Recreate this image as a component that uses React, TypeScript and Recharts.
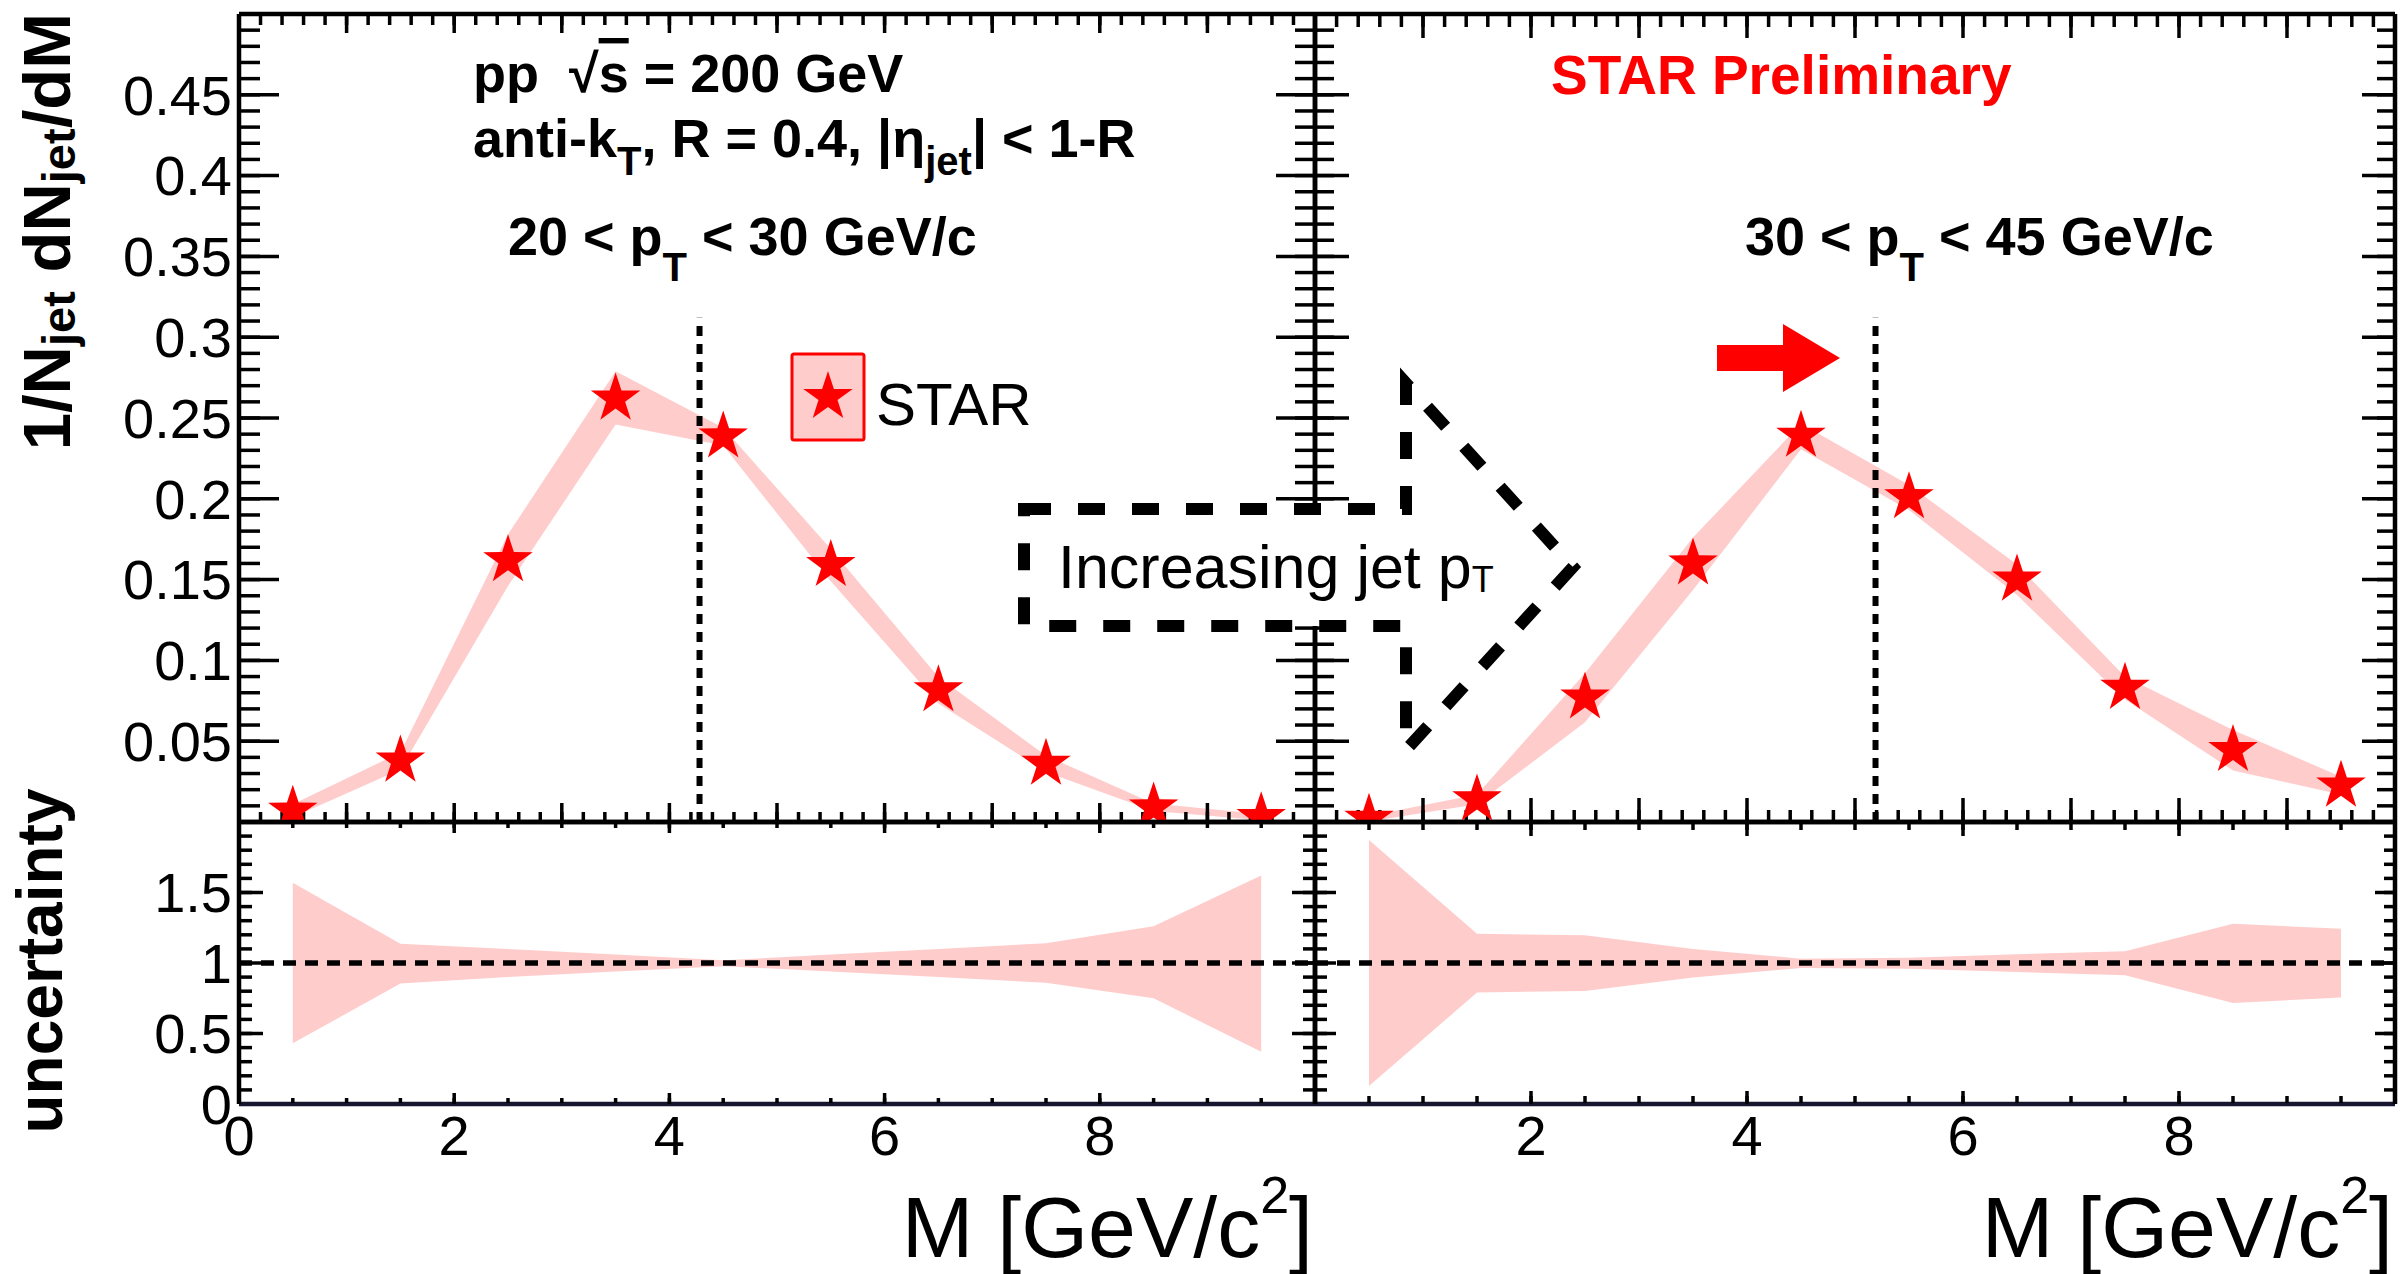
import React from 'react';
import { ComposedChart, XAxis, YAxis, Area, Scatter, ReferenceLine } from 'recharts';

const FONT = '"Liberation Sans", Arial, Helvetica, sans-serif';

// ---------------- data ----------------
const massBins = [0.5, 1.5, 2.5, 3.5, 4.5, 5.5, 6.5, 7.5, 8.5, 9.5];

// 20 < pT < 30 GeV/c
const pt2030Yield = [0.007, 0.038, 0.162, 0.262, 0.2386, 0.159, 0.0815, 0.036, 0.009, 0.003];
const pt2030SysLo = [0.003, 0.0325, 0.146, 0.246, 0.233, 0.149, 0.0734, 0.031, 0.0068, 0.0011];
const pt2030SysHi = [0.011, 0.043, 0.178, 0.279, 0.244, 0.169, 0.0897, 0.041, 0.0114, 0.0049];
const pt2030RatioLo = [0.43, 0.855, 0.9, 0.94, 0.977, 0.94, 0.9, 0.86, 0.75, 0.37];
const pt2030RatioHi = [1.57, 1.137, 1.1, 1.06, 1.019, 1.06, 1.1, 1.14, 1.26, 1.62];

// 30 < pT < 45 GeV/c
const pt3045Yield = [0.002, 0.014, 0.077, 0.16, 0.239, 0.201, 0.15, 0.083, 0.0445, 0.0225];
const pt3045SysLo = [0.0003, 0.011, 0.0617, 0.1435, 0.2306, 0.193, 0.1404, 0.0758, 0.0319, 0.017];
const pt3045SysHi = [0.0037, 0.017, 0.092, 0.176, 0.2464, 0.2086, 0.1593, 0.0899, 0.0569, 0.028];
const pt3045RatioLo = [0.128, 0.79, 0.802, 0.897, 0.965, 0.96, 0.936, 0.913, 0.717, 0.755];
const pt3045RatioHi = [1.873, 1.208, 1.196, 1.1, 1.031, 1.038, 1.062, 1.083, 1.279, 1.243];

// mean jet mass markers (dotted lines)
const meanMass = [4.28, 5.19];
const meanLineTop = 0.312;

// tick labels
const upperYLabels = [0.05, 0.1, 0.15, 0.2, 0.25, 0.3, 0.35, 0.4, 0.45];
const lowerYLabels = [0, 0.5, 1, 1.5];
const leftXLabels = [0, 2, 4, 6, 8];
const rightXLabels = [2, 4, 6, 8];

// ---------------- helpers ----------------
const range = (start: number, stop: number, step: number) => {
  const out: number[] = [];
  for (let i = 0; ; i++) {
    const v = +(start + i * step).toFixed(6);
    if (v > stop + 1e-9) break;
    out.push(v);
  }
  return out;
};

const upperXMajor = range(1, 9, 1);
const upperXMinor = range(0.2, 9.8, 0.2);
const upperYMajor = range(0.05, 0.45, 0.05);
const upperYMinor = range(0.01, 0.49, 0.01);
const lowerXMajor = [2, 4, 6, 8];
const lowerXMinor = range(0.5, 9.5, 0.5);
const lowerYMajor = [0.5, 1, 1.5];
const lowerYMinor = range(0.1, 1.9, 0.1);

const upperRows = (y: number[], lo: number[], hi: number[]) =>
  massBins.map((x, i) => ({ x, y: y[i], band: [lo[i], hi[i]] }));
const lowerRows = (lo: number[], hi: number[]) =>
  massBins.map((x, i) => ({ x, band: [lo[i], hi[i]] }));

function StarShape(props: any) {
  const { cx, cy } = props;
  if (cx == null || cy == null || isNaN(cx) || isNaN(cy)) return null;
  const R = 26;
  const r = 10;
  const pts: string[] = [];
  for (let i = 0; i < 10; i++) {
    const a = -Math.PI / 2 + (i * Math.PI) / 5;
    const rad = i % 2 === 0 ? R : r;
    pts.push(`${(cx + rad * Math.cos(a)).toFixed(2)},${(cy + rad * Math.sin(a)).toFixed(2)}`);
  }
  return <polygon points={pts.join(' ')} fill="#ff0000" />;
}

const NoTickLabel = () => <g />;

type PanelCfg = {
  yDomain: [number, number];
  xMajor: number[];
  xMinor: number[];
  yMajor: number[];
  yMinor: number[];
  bottom: [number, number];
  top: [number, number];
  left: [number, number];
  right: [number, number];
  xLabels?: number[];
  yLabels?: number[];
  labelH?: number;
  labelW?: number;
  bottomColor?: string;
};

function axesFor(c: PanelCfg) {
  const tl = { stroke: '#000', strokeWidth: 3.5 };
  const al = { stroke: '#000', strokeWidth: 4.5 };
  const xc: any = {
    type: 'number',
    dataKey: 'x',
    domain: [0, 10],
    allowDataOverflow: true,
    interval: 0,
    tick: NoTickLabel,
    tickLine: tl,
    mirror: true,
    height: 1,
  };
  const yc: any = {
    type: 'number',
    domain: c.yDomain,
    allowDataOverflow: true,
    interval: 0,
    tick: NoTickLabel,
    tickLine: tl,
    mirror: true,
    width: 1,
  };
  const list: any[] = [
    <XAxis key="xb" xAxisId="xb" {...xc} orientation="bottom" ticks={c.xMajor} tickSize={c.bottom[0]}
      axisLine={{ stroke: c.bottomColor || '#000', strokeWidth: 4.5 }} />,
    <XAxis key="xb2" xAxisId="xb2" {...xc} orientation="bottom" ticks={c.xMinor} tickSize={c.bottom[1]} axisLine={false} />,
    <XAxis key="xt" xAxisId="xt" {...xc} orientation="top" ticks={c.xMajor} tickSize={c.top[0]} axisLine={al} />,
    <XAxis key="xt2" xAxisId="xt2" {...xc} orientation="top" ticks={c.xMinor} tickSize={c.top[1]} axisLine={false} />,
    <YAxis key="yl" yAxisId="yl" {...yc} orientation="left" ticks={c.yMajor} tickSize={c.left[0]} axisLine={al} />,
    <YAxis key="yl2" yAxisId="yl2" {...yc} orientation="left" ticks={c.yMinor} tickSize={c.left[1]} axisLine={false} />,
    <YAxis key="yr" yAxisId="yr" {...yc} orientation="right" ticks={c.yMajor} tickSize={c.right[0]} axisLine={al} />,
    <YAxis key="yr2" yAxisId="yr2" {...yc} orientation="right" ticks={c.yMinor} tickSize={c.right[1]} axisLine={false} />,
  ];
  if (c.xLabels) {
    list.push(
      <XAxis key="xlab" xAxisId="xlab" type="number" dataKey="x" domain={[0, 10]} allowDataOverflow interval={0}
        orientation="bottom" height={c.labelH} ticks={c.xLabels} tickLine={false} axisLine={false}
        tickSize={0} tickMargin={11} tickFormatter={(v: number) => String(v)}
        tick={{ fontSize: 56, fill: '#000', fontFamily: FONT }} />
    );
  }
  if (c.yLabels) {
    list.push(
      <YAxis key="ylab" yAxisId="ylab" type="number" domain={c.yDomain} allowDataOverflow interval={0}
        orientation="left" width={c.labelW} ticks={c.yLabels} tickLine={false} axisLine={false}
        tickSize={0} tickMargin={7} tickFormatter={(v: number) => String(v)}
        tick={{ fontSize: 56, fill: '#000', fontFamily: FONT }} />
    );
  }
  return list;
}

const upperLeftCfg: PanelCfg = {
  yDomain: [0, 0.5], xMajor: upperXMajor, xMinor: upperXMinor, yMajor: upperYMajor, yMinor: upperYMinor,
  bottom: [19, 9], top: [19, 10], left: [40, 20], right: [39, 19], yLabels: upperYLabels, labelW: 239,
};
const upperRightCfg: PanelCfg = {
  yDomain: [0, 0.5], xMajor: upperXMajor, xMinor: upperXMinor, yMajor: upperYMajor, yMinor: upperYMinor,
  bottom: [24, 11], top: [24, 12], left: [34, 18], right: [33, 17],
};
const lowerLeftCfg: PanelCfg = {
  yDomain: [0, 2], xMajor: lowerXMajor, xMinor: lowerXMinor, yMajor: lowerYMajor, yMinor: lowerYMinor,
  bottom: [11, 5], top: [11, 5], left: [24, 12], right: [23, 11], xLabels: leftXLabels, yLabels: lowerYLabels,
  labelH: 90, labelW: 239, bottomColor: '#16162e',
};
const lowerRightCfg: PanelCfg = {
  yDomain: [0, 2], xMajor: lowerXMajor, xMinor: lowerXMinor, yMajor: lowerYMajor, yMinor: lowerYMinor,
  bottom: [13, 7], top: [14, 7], left: [21, 11], right: [20, 10], xLabels: rightXLabels,
  labelH: 90, bottomColor: '#16162e',
};

function UpperPanel({ cfg, rows, mean, width, height, margin }: any) {
  return (
    <ComposedChart width={width} height={height} margin={margin} data={rows}>
      {axesFor(cfg)}
      <Area xAxisId="xb" yAxisId="yl" type="linear" dataKey="band" fill="#ffcccc" fillOpacity={1}
        stroke="none" dot={false} activeDot={false} isAnimationActive={false} />
      <ReferenceLine xAxisId="xb" yAxisId="yl" segment={[{ x: mean, y: 0 }, { x: mean, y: meanLineTop }]}
        stroke="#000" strokeWidth={6} strokeDasharray="10 8" />
      <Scatter xAxisId="xb" yAxisId="yl" data={rows} dataKey="y" shape={StarShape} isAnimationActive={false} />
    </ComposedChart>
  );
}

function LowerPanel({ cfg, rows, width, height, margin }: any) {
  return (
    <ComposedChart width={width} height={height} margin={margin} data={rows}>
      {axesFor(cfg)}
      <Area xAxisId="xb" yAxisId="yl" type="linear" dataKey="band" fill="#ffcccc" fillOpacity={1}
        stroke="none" dot={false} activeDot={false} isAnimationActive={false} />
      <ReferenceLine xAxisId="xb" yAxisId="yl" y={1} stroke="#000" strokeWidth={5.5} strokeDasharray="13 9" />
    </ComposedChart>
  );
}

const T = { fontFamily: FONT, fill: '#000' };

export default function App() {
  const ulRows = upperRows(pt2030Yield, pt2030SysLo, pt2030SysHi);
  const urRows = upperRows(pt3045Yield, pt3045SysLo, pt3045SysHi);
  const llRows = lowerRows(pt2030RatioLo, pt2030RatioHi);
  const lrRows = lowerRows(pt3045RatioLo, pt3045RatioHi);
  return (
    <div style={{ position: 'absolute', left: 0, top: 0, width: 2405, height: 1274, background: '#fff', overflow: 'hidden' }}>
      <div style={{ position: 'absolute', left: 1310, top: 0 }}>
        <UpperPanel cfg={upperRightCfg} rows={urRows} mean={meanMass[1]} width={1091} height={826}
          margin={{ top: 14, right: 6, bottom: 4, left: 5 }} />
      </div>
      <div style={{ position: 'absolute', left: 0, top: 0 }}>
        <UpperPanel cfg={upperLeftCfg} rows={ulRows} mean={meanMass[0]} width={1320} height={826}
          margin={{ top: 14, right: 5, bottom: 4, left: 0 }} />
      </div>
      <div style={{ position: 'absolute', left: 1310, top: 818 }}>
        <LowerPanel cfg={lowerRightCfg} rows={lrRows} width={1091} height={376}
          margin={{ top: 4, right: 6, bottom: 0, left: 5 }} />
      </div>
      <div style={{ position: 'absolute', left: 0, top: 818 }}>
        <LowerPanel cfg={lowerLeftCfg} rows={llRows} width={1320} height={376}
          margin={{ top: 4, right: 5, bottom: 0, left: 0 }} />
      </div>

      <svg style={{ position: 'absolute', left: 0, top: 0, pointerEvents: 'none' }} width={2405} height={1274}>
        {/* axis titles */}
        <text transform="translate(70,13) rotate(-90)" textAnchor="end" fontWeight="bold" fontSize={67} {...T}>
          1/N<tspan fontSize={47} dy={5}>jet</tspan><tspan dy={-5}> dN</tspan><tspan fontSize={47} dy={5}>jet</tspan><tspan dy={-5}>/dM</tspan>
        </text>
        <text transform="translate(62,961) rotate(-90)" textAnchor="middle" fontWeight="bold" fontSize={64} {...T}>
          uncertainty
        </text>
        <text x={1313} y={1257} textAnchor="end" fontSize={86} {...T}>
          M [GeV/c<tspan fontSize={52} dy={-44}>2</tspan><tspan dy={44}>]</tspan>
        </text>
        <text x={2393} y={1257} textAnchor="end" fontSize={86} {...T}>
          M [GeV/c<tspan fontSize={52} dy={-44}>2</tspan><tspan dy={44}>]</tspan>
        </text>

        {/* annotations */}
        <text x={473} y={92} fontWeight="bold" fontSize={54} {...T}>
          pp{'\u00A0 '}√<tspan style={{ textDecoration: 'overline' }}>s</tspan> = 200 GeV
        </text>
        <text x={473} y={157} fontWeight="bold" fontSize={54} {...T}>
          anti-k<tspan fontSize={40} dy={18}>T</tspan><tspan dy={-18}>, R = 0.4, |η</tspan><tspan fontSize={40} dy={18}>jet</tspan><tspan dy={-18}>| &lt; 1-R</tspan>
        </text>
        <text x={508} y={255} fontWeight="bold" fontSize={54} {...T}>
          20 &lt; p<tspan fontSize={40} dy={26}>T</tspan><tspan dy={-26}> &lt; 30 GeV/c</tspan>
        </text>
        <text x={1745} y={255} fontWeight="bold" fontSize={54} {...T}>
          30 &lt; p<tspan fontSize={40} dy={26}>T</tspan><tspan dy={-26}> &lt; 45 GeV/c</tspan>
        </text>
        <text x={1551} y={94} fontWeight="bold" fontSize={55} fontFamily={FONT} fill="#ff0000">
          STAR Preliminary
        </text>

        {/* legend */}
        <rect x={792} y={354} width={72} height={86} rx={2} fill="#ffcccc" stroke="#ff0000" strokeWidth={3} />
        <StarShape cx={828} cy={397} />
        <text x={876} y={425} fontSize={60} {...T}>STAR</text>

        {/* increasing pT arrow */}
        <polygon points="1024,509 1406,509 1406,383 1573,567 1406,750 1406,626 1024,626"
          fill="#fff" stroke="#000" strokeWidth={12} strokeDasharray="27 27" strokeLinejoin="miter" />
        <text x={1058} y={588} fontSize={61} {...T}>
          Increasing jet p<tspan fontSize={36} dy={4}>T</tspan>
        </text>

        {/* red shift arrow */}
        <polygon points="1717,345 1783,345 1783,324 1840,358 1783,392 1783,371 1717,371" fill="#ff0000" />
      </svg>
    </div>
  );
}
